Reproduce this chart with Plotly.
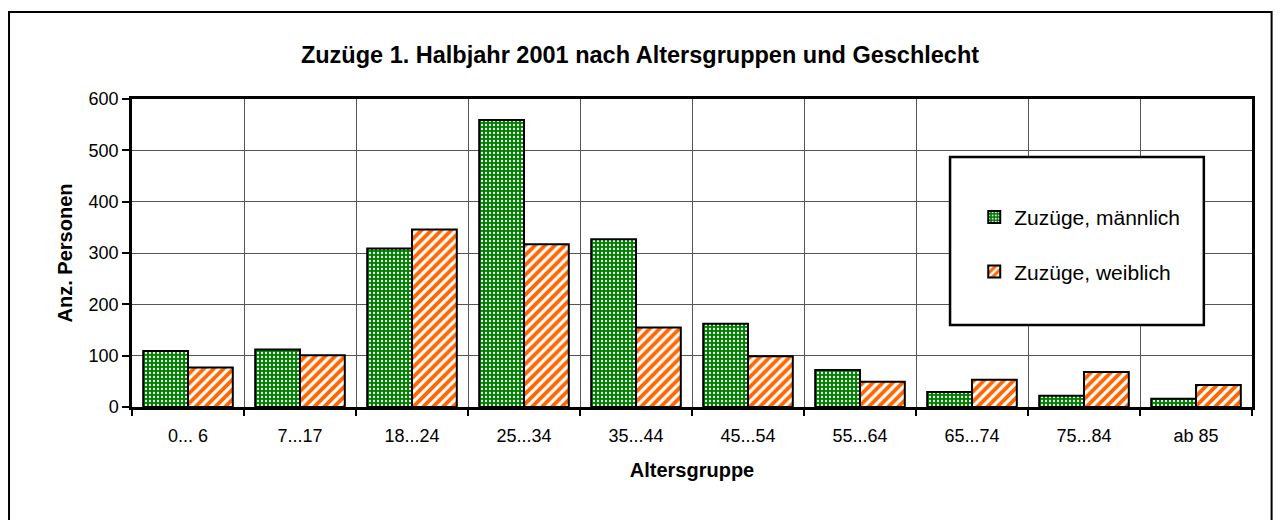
import plotly.graph_objects as go

# Altersgruppen und Zuzuege
altersgruppen = ["0... 6", "7...17", "18...24", "25...34", "35...44",
                 "45...54", "55...64", "65...74", "75...84", "ab 85"]
zuzuege_maennlich = [109, 112, 309, 559, 327, 162, 72, 29, 22, 16]
zuzuege_weiblich = [77, 101, 346, 317, 155, 99, 49, 53, 68, 43]

schrift = "Arial, Liberation Sans, sans-serif"

fig = go.Figure()
fig.add_trace(go.Bar(
    x=altersgruppen, y=zuzuege_maennlich, name="Zuzüge, männlich",
    legendgroup="m",
    marker=dict(color="#008000", line=dict(color="black", width=2),
                pattern=dict(shape=".", bgcolor="#008000", fgcolor="white",
                             size=4, solidity=0.25, fillmode="replace")),
))
fig.add_trace(go.Bar(
    x=altersgruppen, y=zuzuege_weiblich, name="Zuzüge, weiblich",
    legendgroup="w",
    marker=dict(color="#FF6600", line=dict(color="black", width=2),
                pattern=dict(shape="/", bgcolor="#FF6600", fgcolor="white",
                             size=7, solidity=0.45, fillmode="replace")),
))

# Legendenrahmen
fig.add_shape(type="rect", xref="paper", yref="paper",
              x0=0.7304, x1=0.957, y0=0.266, y1=0.812,
              line=dict(color="black", width=2.5), fillcolor="white", layer="above")
# aeusserer Rahmen
fig.add_shape(type="rect", xref="paper", yref="paper",
              x0=-0.1098, x1=1.0175, y0=-0.45, y1=1.2825,
              line=dict(color="black", width=2), fillcolor="rgba(0,0,0,0)")

# die Seite hat 8px Rand, daher alles um 8px kleiner/verschoben
fig.update_layout(
    width=1273, height=512,
    margin=dict(l=124, r=29, t=91, b=113),
    paper_bgcolor="white", plot_bgcolor="white",
    font=dict(family=schrift, color="black", size=18),
    title=dict(text="<b>Zuzüge 1. Halbjahr 2001 nach Altersgruppen und Geschlecht</b>",
               x=(640 - 8) / 1273, xanchor="center", y=1 - 47 / 512, yanchor="middle",
               font=dict(size=23.5, family=schrift)),
    barmode="group", bargap=0.2, bargroupgap=0,
    legend=dict(x=0.752, y=0.682, xanchor="left", yanchor="top",
                bgcolor="rgba(0,0,0,0)", borderwidth=0,
                font=dict(size=21, family=schrift), tracegroupgap=24),
    showlegend=True,
)
fig.update_xaxes(
    title=dict(text="<b>Altersgruppe</b>", font=dict(size=20), standoff=18),
    tickson="boundaries", ticks="outside", ticklen=6, tickwidth=2, tickcolor="black",
    showline=True, linecolor="black", linewidth=2.5, mirror=True,
    showgrid=True, gridcolor="#555555", gridwidth=1,
    ticklabelstandoff=11,
)
fig.update_yaxes(
    title=dict(text="<b>Anz. Personen</b>", font=dict(size=20), standoff=11),
    range=[0, 600], dtick=100, ticks="outside", ticklen=7, tickwidth=1.5, tickcolor="black",
    showline=True, linecolor="black", linewidth=2.5, mirror=True,
    showgrid=True, gridcolor="#555555", gridwidth=1, zeroline=False,
)

fig.write_html("out.html")
